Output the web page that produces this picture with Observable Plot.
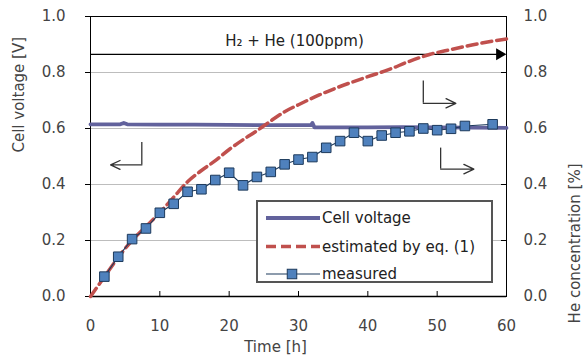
<!DOCTYPE html>
<html>
<head>
<meta charset="utf-8">
<script src="https://cdn.jsdelivr.net/npm/d3@7"></script>
<script src="https://cdn.jsdelivr.net/npm/@observablehq/plot@0.6"></script>
<style>
  html, body { margin: 0; padding: 0; background: #fff; }
  #chart { width: 584px; height: 356px; }
</style>
</head>
<body>
<div id="chart"></div>
<script>
// ---- data ----
const xTicks = [0, 10, 20, 30, 40, 50, 60];
const yTicks = [0, 0.2, 0.4, 0.6, 0.8, 1.0];

// Cell voltage [V]
const voltageT = [0, 4.3, 4.8, 5.3, 10, 15, 20, 25, 30, 31.8, 32.0, 32.3, 36, 40, 45, 50, 55, 60];
const voltageV = [0.615, 0.615, 0.62, 0.615, 0.614, 0.614, 0.613, 0.612, 0.612, 0.612, 0.62, 0.604, 0.604, 0.604, 0.605, 0.604, 0.603, 0.602];

// He concentration estimated by eq. (1)
const estT = [0, 2, 4, 6, 8, 10, 12, 14, 16, 18, 20, 22, 24, 26, 28, 30, 33, 36, 40, 43, 46, 49, 52, 55, 58, 60];
const estV = [0, 0.07, 0.14, 0.2, 0.25, 0.3, 0.355, 0.41, 0.45, 0.485, 0.525, 0.56, 0.592, 0.627, 0.66, 0.685, 0.72, 0.75, 0.785, 0.81, 0.84, 0.865, 0.882, 0.898, 0.912, 0.92];

// He concentration measured
const measT = [2, 4, 6, 8, 10, 12, 14, 16, 18, 20, 22, 24, 26, 28, 30, 32, 34, 36, 38, 40, 42, 44, 46, 48, 50, 52, 54, 58];
const measV = [0.071, 0.142, 0.205, 0.243, 0.299, 0.331, 0.374, 0.383, 0.416, 0.442, 0.397, 0.427, 0.445, 0.472, 0.489, 0.498, 0.531, 0.555, 0.585, 0.555, 0.575, 0.585, 0.59, 0.6, 0.594, 0.599, 0.609, 0.615];

// annotations
const gasLabel = ["H\u2082 + He (100ppm)"];
const gasArrow = [{x1: 0, x2: 59.0, y: 0.865}];
const bendArrows = [
  {vx: 7.4, vy1: 0.55, vy2: 0.47, hx2: 2.9},
  {vx: 48.0, vy1: 0.77, vy2: 0.69, hx2: 52.7},
  {vx: 50.5, vy1: 0.53, vy2: 0.455, hx2: 55.3}
];
const legendLabels = ["Cell voltage", "estimated by eq. (1)", "measured"];
const axisLabels = {left: "Cell voltage [V]", right: "He concentration [%]", bottom: "Time [h]"};

// ---- tables ----
const voltage = voltageT.map((t, i) => ({t, v: voltageV[i]}));
const estimated = estT.map((t, i) => ({t, v: estV[i]}));
const measured = measT.map((t, i) => ({t, v: measV[i]}));

const FONT = "'DejaVu Sans', 'Liberation Sans', Arial, sans-serif";
const C_VOLT = "#62629c";
const C_EST = "#c0504d";
const C_MEAS = "#4f81bd";
const C_MEAS_STROKE = "#1d3a5c";
const fmt = d3.format(".1f");

const plot = Plot.plot({
  width: 584,
  height: 356,
  marginTop: 16,
  marginRight: 78,
  marginBottom: 60,
  marginLeft: 90,
  style: {fontFamily: FONT, fontSize: "15px", color: "#333", background: "#fff"},
  x: {domain: [0, 60]},
  y: {domain: [0, 1]},
  marks: [
    Plot.gridY(yTicks.slice(1, -1), {stroke: "#bdbdbd", strokeOpacity: 1, strokeWidth: 1}),
    Plot.axisY(yTicks, {anchor: "left", tickSize: 5, tickPadding: 20, tickFormat: fmt, label: null, stroke: "#000", fill: "#444"}),
    Plot.axisY(yTicks, {anchor: "right", tickSize: 0, tickPadding: 17, tickFormat: fmt, label: null, fill: "#444"}),
    Plot.axisX(xTicks, {anchor: "bottom", tickSize: 0, tickPadding: 24, tickFormat: d3.format("d"), label: null, fill: "#444"}),
    Plot.tickX(xTicks.slice(1, -1), {x: d => d, insetTop: 275, stroke: "#000"}),
    Plot.tickY(yTicks.slice(1, -1), {y: d => d, insetLeft: 411, stroke: "#000"}),
    Plot.frame({stroke: "#000", strokeWidth: 1}),
    Plot.ruleY([0], {stroke: "#000", strokeWidth: 1.6}),
    // axis titles
    Plot.text([axisLabels.left], {frameAnchor: "left", rotate: -90, dx: -71, dy: -4, fill: "#444"}),
    Plot.text([axisLabels.right], {frameAnchor: "right", rotate: -90, dx: 69, dy: 7, fill: "#444"}),
    Plot.text([axisLabels.bottom], {frameAnchor: "bottom", dx: -23, dy: 55, fill: "#444"}),
    // gas annotation
    Plot.text(gasLabel, {frameAnchor: "top", dx: -4, dy: 19, fill: "#222"}),
    Plot.ruleY(gasArrow, {y: "y", x1: "x1", x2: "x2", stroke: "#000", strokeWidth: 1.2}),
    Plot.dot(gasArrow, {x: "x2", y: "y", symbol: "triangle", rotate: 90, r: 4.4, fill: "#000", stroke: "none"}),
    // bent arrows
    Plot.ruleX(bendArrows, {x: "vx", y1: "vy1", y2: "vy2", stroke: "#333", strokeWidth: 1.3}),
    Plot.arrow(bendArrows, {x1: "vx", y1: "vy2", x2: "hx2", y2: "vy2", stroke: "#333", strokeWidth: 1.3, headLength: 14, headAngle: 50}),
    // data
    Plot.line(voltage, {x: "t", y: "v", stroke: C_VOLT, strokeWidth: 3.8}),
    Plot.line(estimated, {x: "t", y: "v", stroke: C_EST, strokeWidth: 3.5, strokeDasharray: "10,5", curve: "monotone-x"}),
    Plot.line(measured, {x: "t", y: "v", stroke: C_MEAS_STROKE, strokeWidth: 1.1}),
    Plot.dot(measured, {x: "t", y: "v", symbol: "square", r: 5.4, fill: C_MEAS, stroke: C_MEAS_STROKE, strokeWidth: 1})
  ]
});

// ---- legend (inside the plot area, drawn over the svg) ----
const svg = d3.select(plot);
const lg = svg.append("g").attr("font-family", FONT).attr("font-size", 15).attr("fill", "#222").attr("text-anchor", "start");
lg.append("rect").attr("x", 257).attr("y", 201).attr("width", 235).attr("height", 81)
  .attr("fill", "#fff").attr("stroke", "#555").attr("stroke-width", 2);
const rows = [218, 246.5, 274];
lg.append("line").attr("x1", 266).attr("x2", 320).attr("y1", rows[0]).attr("y2", rows[0]).attr("stroke", C_VOLT).attr("stroke-width", 3.8);
lg.append("line").attr("x1", 266).attr("x2", 320).attr("y1", rows[1]).attr("y2", rows[1]).attr("stroke", C_EST).attr("stroke-width", 3.5).attr("stroke-dasharray", "10,5");
lg.append("line").attr("x1", 266).attr("x2", 320).attr("y1", rows[2]).attr("y2", rows[2]).attr("stroke", C_MEAS_STROKE).attr("stroke-width", 1.1);
lg.append("rect").attr("x", 292 - 4.75).attr("y", rows[2] - 4.75).attr("width", 9.5).attr("height", 9.5)
  .attr("fill", C_MEAS).attr("stroke", C_MEAS_STROKE).attr("stroke-width", 1);
legendLabels.forEach((s, i) => {
  lg.append("text").attr("x", 322).attr("y", rows[i]).attr("dy", "0.35em").attr("text-anchor", "start").text(s);
});

document.getElementById("chart").appendChild(plot);
</script>
</body>
</html>
